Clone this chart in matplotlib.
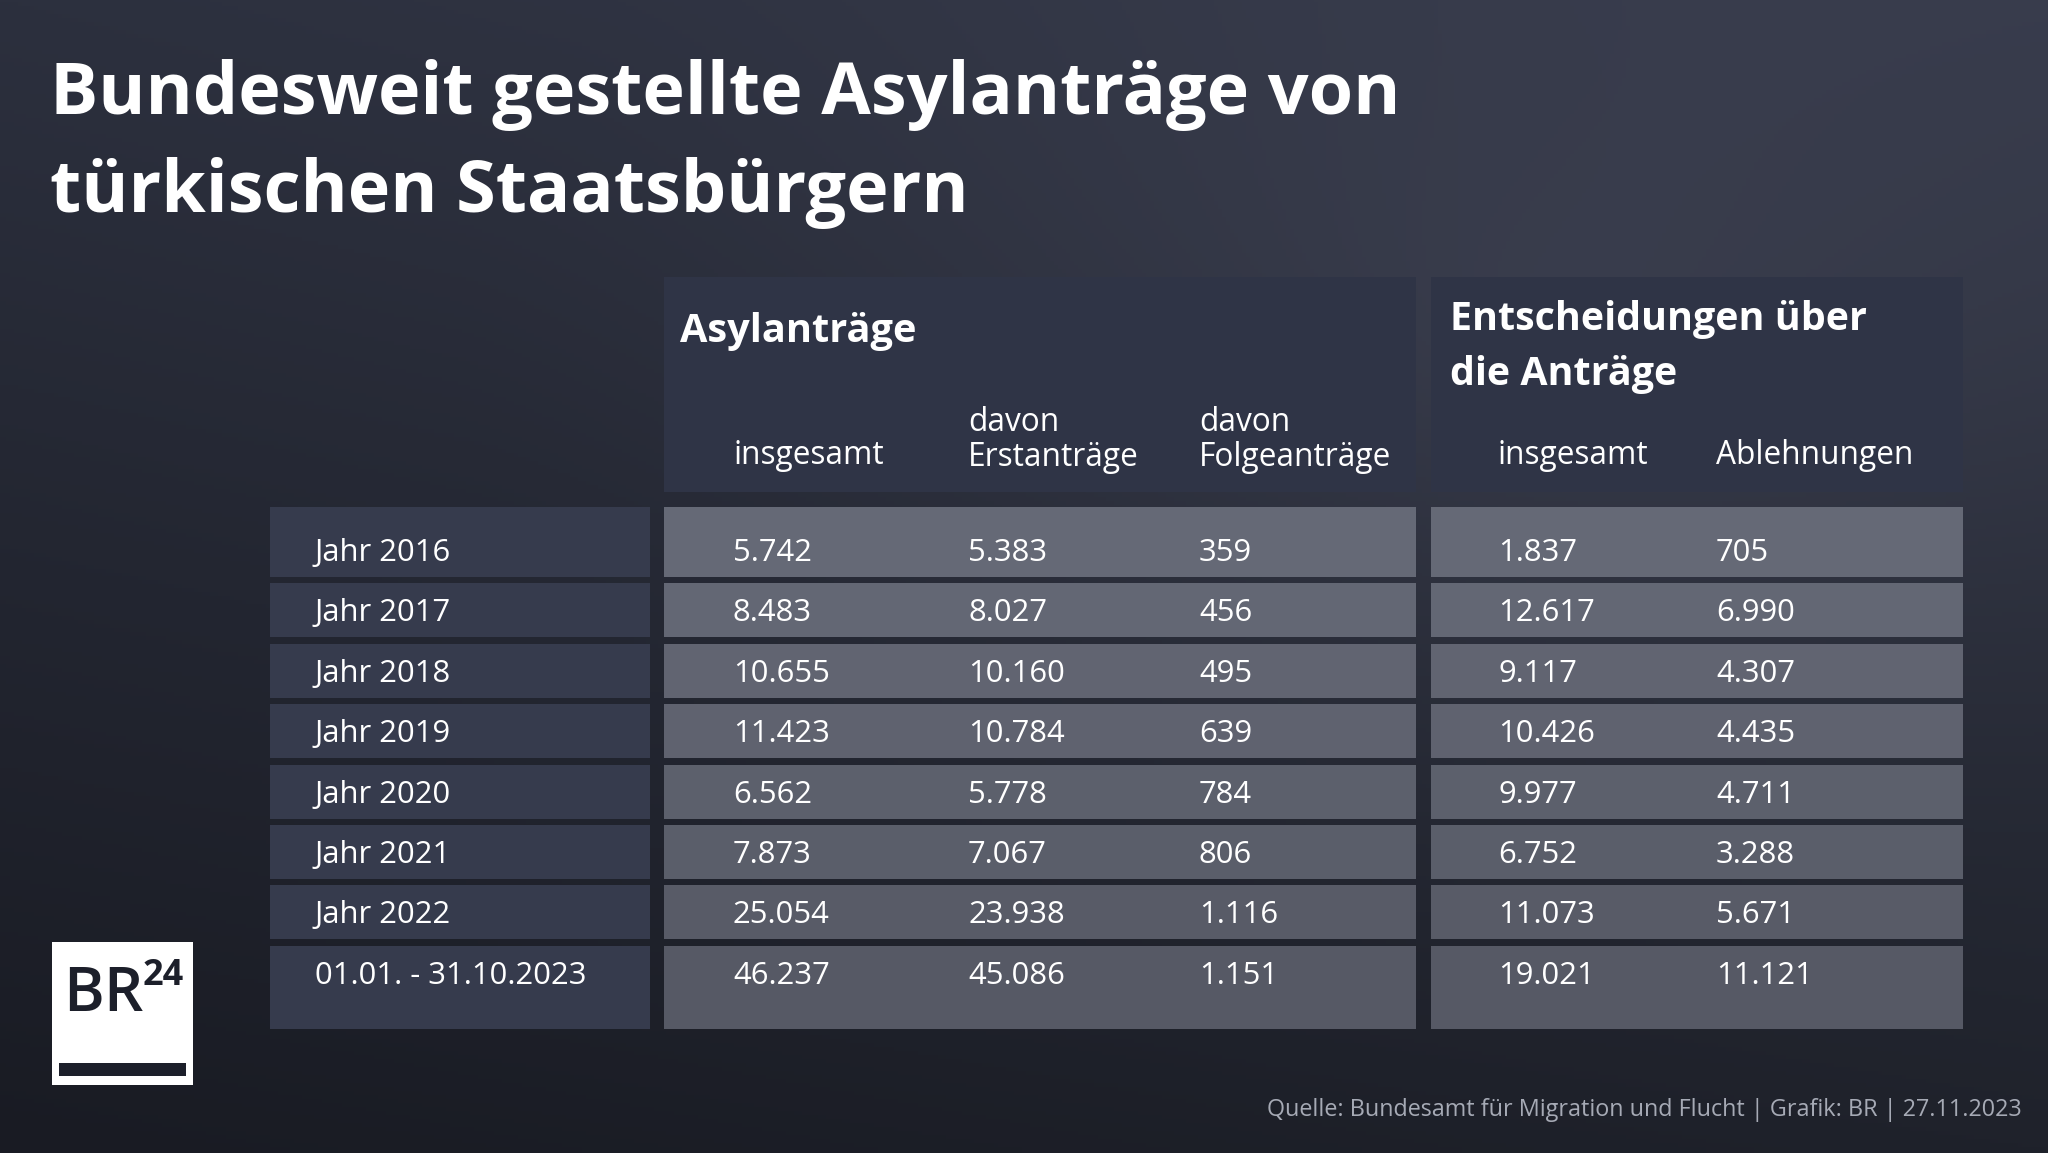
import numpy as np
import matplotlib
matplotlib.use("Agg")
import matplotlib.pyplot as plt
from matplotlib.patches import Rectangle

# ---------------- data ----------------
title_lines = ["Bundesweit gestellte Asylanträge von", "türkischen Staatsbürgern"]
row_labels = ["Jahr 2016", "Jahr 2017", "Jahr 2018", "Jahr 2019", "Jahr 2020",
              "Jahr 2021", "Jahr 2022", "01.01. - 31.10.2023"]
antraege_gesamt = [5742, 8483, 10655, 11423, 6562, 7873, 25054, 46237]
erstantraege = [5383, 8027, 10160, 10784, 5778, 7067, 23938, 45086]
folgeantraege = [359, 456, 495, 639, 784, 806, 1116, 1151]
entscheidungen_gesamt = [1837, 12617, 9117, 10426, 9977, 6752, 11073, 19021]
ablehnungen = [705, 6990, 4307, 4435, 4711, 3288, 5671, 11121]
group_headers = ["Asylanträge", "Entscheidungen über\ndie Anträge"]
sub_headers = ["insgesamt", "davon\nErstanträge", "davon\nFolgeanträge", "insgesamt", "Ablehnungen"]
footer = "Quelle: Bundesamt für Migration und Flucht | Grafik: BR | 27.11.2023"

columns = [antraege_gesamt, erstantraege, folgeantraege, entscheidungen_gesamt, ablehnungen]

def fmt(v):
    return f"{v:,}".replace(",", ".")

FONT = "Open Sans"
W, H = 2048, 1153
fig = plt.figure(figsize=(W / 100, H / 100), dpi=100)
ax = fig.add_axes([0, 0, 1, 1])
ax.set_xlim(0, W)
ax.set_ylim(H, 0)
ax.axis("off")

# ---------------- background gradient ----------------
yy, xx = np.mgrid[0:H:4, 0:W:4]
u = xx / W
v = yy / H
tl = np.array([44, 48, 62]); tr = np.array([54, 58, 74])
bl = np.array([25, 27, 35]); br = np.array([31, 34, 43])
img = ((1 - u)[..., None] * (1 - v)[..., None] * tl + u[..., None] * (1 - v)[..., None] * tr
       + (1 - u)[..., None] * v[..., None] * bl + u[..., None] * v[..., None] * br)
d = np.sqrt(((xx - 1550) / 1100.0) ** 2 + ((yy - 330) / 650.0) ** 2)
img = img + (np.clip(1 - d, 0, 1) ** 1.5)[..., None] * np.array([12, 12, 14])
ax.imshow(np.clip(img, 0, 255).astype(np.uint8), extent=(0, W, H, 0), aspect="auto",
          interpolation="bilinear", zorder=0)

renderer = fig.canvas.get_renderer()

def fit_text(s, x, y, width, **kw):
    t = ax.text(x, y, s, fontsize=20, **kw)
    bb = t.get_window_extent(renderer=renderer)
    size = 20 * width / bb.width
    t.set_fontsize(size)
    return size

# ---------------- title ----------------
ts = fit_text(title_lines[0], 50, 114, 1350, family=FONT, fontweight="bold",
              color="white", va="baseline", ha="left")
ax.text(50, 212, title_lines[1], fontsize=ts, family=FONT, fontweight="bold",
        color="white", va="baseline", ha="left")

# ---------------- panels ----------------
label_x0, label_x1 = 270, 650
grp = [(664, 1416), (1431, 1963)]
head_y0, head_y1 = 277, 492
head_col = "#2f3446"
for x0, x1 in grp:
    ax.add_patch(Rectangle((x0, head_y0), x1 - x0, head_y1 - head_y0, color=head_col, lw=0, zorder=1))

pitch = 60.4
base0 = 561
n = len(row_labels)
for i in range(n):
    b = base0 + i * pitch
    top = b - 38 if i > 0 else b - 54
    bot = b + 16 if i < n - 1 else b + 45
    ax.add_patch(Rectangle((label_x0, top), label_x1 - label_x0, bot - top,
                           color="#363b4d", lw=0, zorder=1))
    f = i / (n - 1)
    c = (np.array([101, 105, 118]) * (1 - f) + np.array([86, 89, 101]) * f) / 255
    for x0, x1 in grp:
        ax.add_patch(Rectangle((x0, top), x1 - x0, bot - top, color=c, lw=0, zorder=1))

# ---------------- headers ----------------
BODY = 22.3
hs = fit_text(group_headers[0], 680, 342, 236, family=FONT, fontweight="bold",
              color="white", va="baseline", ha="left", zorder=3)
l1, l2 = group_headers[1].split("\n")
hs2 = fit_text(l1, 1450, 330, 416, family=FONT, fontweight="bold",
               color="white", va="baseline", ha="left", zorder=3)
ax.text(1450, 385, l2, fontsize=hs2, family=FONT, fontweight="bold",
        color="white", va="baseline", ha="left", zorder=3)

col_x = [733, 968, 1199, 1498, 1716]
for x, s in zip(col_x, sub_headers):
    parts = s.split("\n")
    if len(parts) == 1:
        ax.text(x, 464, parts[0], fontsize=BODY + 0.5, family=FONT, color="white",
                va="baseline", ha="left", zorder=3)
    else:
        ax.text(x, 431, parts[0], fontsize=BODY + 0.5, family=FONT, color="white",
                va="baseline", ha="left", zorder=3)
        ax.text(x, 466, parts[1], fontsize=BODY + 0.5, family=FONT, color="white",
                va="baseline", ha="left", zorder=3)

# ---------------- body ----------------
for i, lab in enumerate(row_labels):
    b = base0 + i * pitch
    ax.text(315, b, lab, fontsize=BODY, family=FONT, color="white",
            va="baseline", ha="left", zorder=3)
    for x, col in zip(col_x, columns):
        ax.text(x, b, fmt(col[i]), fontsize=BODY, family=FONT, color="white",
                va="baseline", ha="left", zorder=3)

# ---------------- footer ----------------
fit_text(footer, 2022, 1116, 755, family=FONT, color="#a6aab5",
         va="baseline", ha="right", zorder=3)

# ---------------- logo ----------------
ax.add_patch(Rectangle((52, 942), 141, 143, color="white", lw=0, zorder=2))
ax.add_patch(Rectangle((59, 1063), 127, 13, color="#1c1f2a", lw=0, zorder=3))
fit_text("BR", 63, 1011, 80, family=FONT, fontweight="semibold", color="#1c1f2a",
         va="baseline", ha="left", zorder=3)
fit_text("24", 143, 985, 41, family=FONT, fontweight="bold", color="#1c1f2a",
         va="baseline", ha="left", zorder=3)

fig.savefig("out.png", dpi=100)
